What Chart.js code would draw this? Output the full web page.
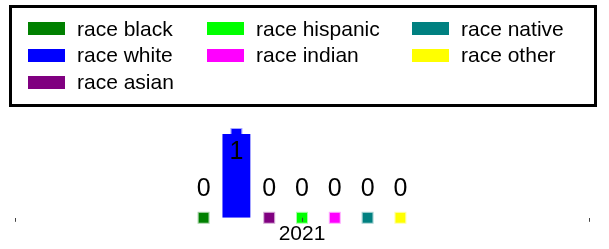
<!DOCTYPE html>
<html lang="en">
<head>
    <meta charset="UTF-8">
    <title>Race by year</title>
    <script src="https://cdn.jsdelivr.net/npm/chart.js"></script>
    <style>
        html, body { margin: 0; padding: 0; background: #fff; }
        #wrap { position: relative; width: 609px; height: 249px; overflow: hidden; }
        #chart { position: absolute; left: 0; top: 0; }
        #legend {
            position: absolute; left: 9px; top: 5px; width: 588px; height: 102px;
            border: 3px solid #000; box-sizing: border-box;
            font-family: "Liberation Sans", Arial, sans-serif; font-size: 21px; color: #000;
        }
        .legendItem { position: absolute; height: 26px; display: flex; align-items: center; white-space: nowrap; }
        .swatch { width: 37px; height: 13px; margin-right: 12px; }
    </style>
</head>
<body>
<div id="wrap">
    <canvas id="chart" width="609" height="249"></canvas>
    <div id="legend"></div>
</div>
<script>
    const categories = ['2021'];
    const seriesNames = ['race black', 'race white', 'race asian', 'race hispanic', 'race indian', 'race native', 'race other'];
    const seriesValues = [[0], [1], [0], [0], [0], [0], [0]];
    const seriesColors = ['#008000', '#0000ff', '#800080', '#00ff00', '#ff00ff', '#008080', '#ffff00'];

    const fontFamily = '"Liberation Sans", Arial, sans-serif';

    // square marker + value label on top of each bar, plus the centre tick
    const markerPlugin = {
        id: 'markers',
        afterDatasetsDraw(chart) {
            const ctx = chart.ctx;
            chart.data.datasets.forEach((ds, i) => {
                const meta = chart.getDatasetMeta(i);
                meta.data.forEach((bar, j) => {
                    const v = ds.data[j];
                    ctx.save();
                    ctx.fillStyle = ds.backgroundColor;
                    ctx.fillRect(bar.x - 5, bar.y - 5, 10, 10);
                    ctx.globalAlpha = 0.35;
                    ctx.strokeStyle = ds.backgroundColor;
                    ctx.lineWidth = 1;
                    ctx.strokeRect(bar.x - 5.5, bar.y - 5.5, 11, 11);
                    ctx.globalAlpha = 1;
                    ctx.fillStyle = '#000';
                    ctx.font = '25px ' + fontFamily;
                    ctx.textAlign = 'center';
                    ctx.textBaseline = 'middle';
                    ctx.fillText(String(v), bar.x, v > 0 ? bar.y + 18 : bar.y - 29);
                    ctx.restore();
                });
            });
            const xs = chart.scales.x;
            const bottom = chart.chartArea.bottom;
            ctx.save();
            ctx.strokeStyle = '#444';
            ctx.lineWidth = 1;
            categories.forEach((c, k) => {
                const px = Math.round(xs.getPixelForTick(k)) + 0.5;
                ctx.beginPath();
                ctx.moveTo(px, bottom);
                ctx.lineTo(px, bottom + 4);
                ctx.stroke();
            });
            ctx.restore();
        }
    };

    const chart = new Chart(document.getElementById('chart').getContext('2d'), {
        type: 'bar',
        data: {
            labels: categories,
            datasets: seriesNames.map((name, i) => ({
                label: name,
                data: seriesValues[i],
                backgroundColor: seriesColors[i],
                borderWidth: 0,
                categoryPercentage: 0.4,
                barPercentage: 0.85
            }))
        },
        options: {
            responsive: false,
            animation: false,
            layout: { padding: { top: 134, left: 15, right: 20, bottom: 2 } },
            plugins: {
                legend: { display: false },
                tooltip: { enabled: false }
            },
            scales: {
                x: {
                    grid: { display: true, drawOnChartArea: false, tickLength: 4, color: '#444', offset: true },
                    border: { display: false },
                    ticks: { color: '#000', padding: 0, font: { size: 21, family: fontFamily } }
                },
                y: { display: false, min: 0, max: 1 }
            }
        },
        plugins: [markerPlugin]
    });

    // legend box, filled column by column (3 rows, first columns get the extra item)
    const legendCols = [16, 195, 400];
    const legendRows = [7.5, 34, 61];
    const legendDiv = document.getElementById('legend');
    const nItems = chart.data.datasets.length;
    const colSizes = legendCols.map((c, k) => Math.floor(nItems / legendCols.length) + (k < nItems % legendCols.length ? 1 : 0));
    let col = 0, row = 0;
    chart.data.datasets.forEach((ds) => {
        const item = document.createElement('div');
        item.className = 'legendItem';
        item.style.left = legendCols[col] + 'px';
        item.style.top = legendRows[row] + 'px';
        item.innerHTML = `<span class="swatch" style="background:${ds.backgroundColor}"></span><span>${ds.label}</span>`;
        legendDiv.appendChild(item);
        row++;
        if (row >= colSizes[col]) { row = 0; col++; }
    });
</script>
</body>
</html>
